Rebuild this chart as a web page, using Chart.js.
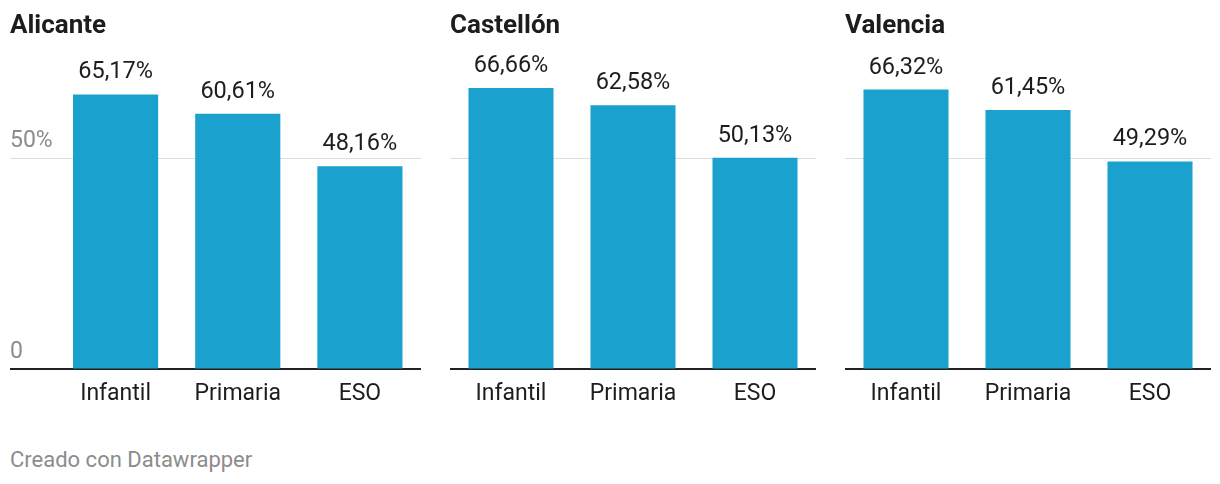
<!DOCTYPE html>
<html>
<head>
<meta charset="utf-8">
<script src="https://cdn.jsdelivr.net/npm/chart.js@4"></script>
<style>
  html, body { margin: 0; padding: 0; background: #fff; }
  body { width: 1220px; height: 484px; position: relative; overflow: hidden; font-family: Roboto, "Noto Sans", sans-serif; }
  .panel { position: absolute; top: 0; }
  .footer { position: absolute; left: 10px; top: 447px; font-size: 22px; color: #8c8c8c; }
</style>
</head>
<body>
<div class="panel" style="left:10px"><canvas id="c0" width="411" height="420"></canvas></div>
<div class="panel" style="left:450px"><canvas id="c1" width="366" height="420"></canvas></div>
<div class="panel" style="left:845px"><canvas id="c2" width="366" height="420"></canvas></div>
<div class="footer">Creado con Datawrapper</div>
<script>
// values
const categories = ['Infantil', 'Primaria', 'ESO'];
const provinces = ['Alicante', 'Castellón', 'Valencia'];
const alicante = [65.17, 60.61, 48.16];
const castellon = [66.66, 62.58, 50.13];
const valencia = [66.32, 61.45, 49.29];
const yTicks = [0, 50];
const yMax = 70;

const BAR = '#1ba1ce';
const TEXT = '#1d1d1d';
const FONT = 'Roboto';

function fmt(v) {
    return v.toFixed(2).replace('.', ',') + '%';
}

// draws the value above every bar, using the bar elements laid out by Chart.js
const valueLabels = {
    id: 'valueLabels',
    afterDatasetsDraw(chart) {
        const ctx = chart.ctx;
        const meta = chart.getDatasetMeta(0);
        const data = chart.data.datasets[0].data;
        ctx.save();
        ctx.font = `23.5px ${FONT}`;
        ctx.fillStyle = TEXT;
        ctx.textAlign = 'center';
        ctx.textBaseline = 'alphabetic';
        meta.data.forEach((bar, i) => {
            ctx.fillText(fmt(data[i]), bar.x, bar.y - 16);
        });
        ctx.restore();
    }
};

function makePanel(id, title, values, showAxis) {
    const ctx = document.getElementById(id).getContext('2d');
    return new Chart(ctx, {
        type: 'bar',
        data: {
            labels: categories,
            datasets: [{
                data: values,
                backgroundColor: BAR,
                barPercentage: 0.697,
                categoryPercentage: 1
            }]
        },
        options: {
            responsive: false,
            animation: false,
            devicePixelRatio: 1,
            layout: { padding: { top: 0, bottom: 9, left: 0, right: 0 } },
            scales: {
                x: {
                    grid: { display: false },
                    border: { display: false },
                    ticks: { color: TEXT, font: { family: FONT, size: 23 }, padding: 3 }
                },
                y: {
                    min: 0,
                    max: yMax,
                    afterBuildTicks: s => { s.ticks = yTicks.map(v => ({ value: v })); },
                    afterFit: s => { s.width = showAxis ? 44.5 : 0; },
                    border: { display: false },
                    grid: {
                        color: c => (c.tick && c.tick.value === 0) ? '#222' : '#dedede',
                        tickColor: c => (c.tick && c.tick.value === 0) ? '#222' : '#dedede',
                        lineWidth: c => (c.tick && c.tick.value === 0) ? 2 : 1,
                        drawTicks: showAxis,
                        tickLength: 44.5
                    },
                    ticks: {
                        display: showAxis,
                        crossAlign: 'far',
                        labelOffset: -17.5,
                        padding: 0,
                        color: '#8c8c8c',
                        font: { family: FONT, size: 23 },
                        callback: v => v === 0 ? '0' : v + '%'
                    }
                }
            },
            plugins: {
                legend: { display: false },
                tooltip: { enabled: false },
                title: {
                    display: true,
                    text: title,
                    align: 'start',
                    color: TEXT,
                    font: { family: FONT, size: 26, weight: 'bold' },
                    padding: { top: 11, bottom: 31.8 }
                }
            }
        },
        plugins: [valueLabels]
    });
}

makePanel('c0', provinces[0], alicante, true);
makePanel('c1', provinces[1], castellon, false);
makePanel('c2', provinces[2], valencia, false);
</script>
</body>
</html>
